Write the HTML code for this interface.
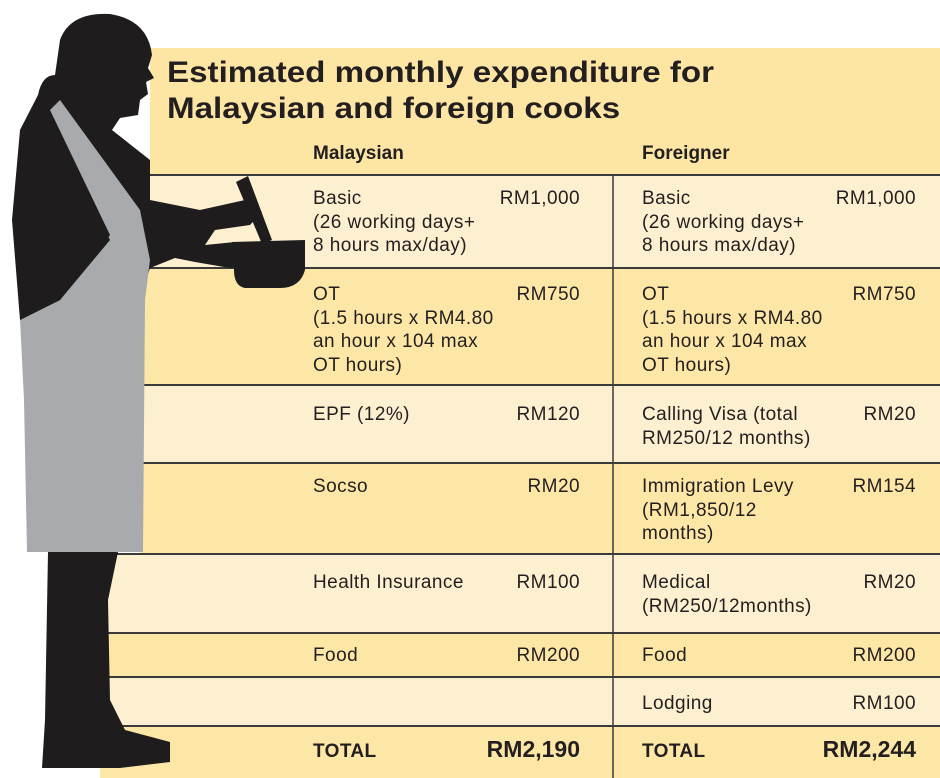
<!DOCTYPE html>
<html><head><meta charset="utf-8"><style>
body{margin:0;width:940px;height:778px;background:#fff;position:relative;overflow:hidden;font-family:"Liberation Sans",sans-serif;color:#231f20}
.abs{position:absolute}
.t{font-size:19px;line-height:23.5px;letter-spacing:0.45px}
.v{text-align:right}
.b{font-weight:bold}
</style></head><body>
<div class="abs" style="left:150px;top:48px;width:790px;height:127px;background:#fde6a4"></div>
<div class="abs" style="left:140px;top:175px;width:800px;height:93px;background:#fdf0d0"></div>
<div class="abs" style="left:140px;top:268px;width:800px;height:117px;background:#fde7a6"></div>
<div class="abs" style="left:140px;top:385px;width:800px;height:78px;background:#fdf0d0"></div>
<div class="abs" style="left:140px;top:463px;width:800px;height:91px;background:#fde7a6"></div>
<div class="abs" style="left:100px;top:554px;width:840px;height:79px;background:#fdf0d0"></div>
<div class="abs" style="left:100px;top:633px;width:840px;height:44px;background:#fde7a6"></div>
<div class="abs" style="left:100px;top:677px;width:840px;height:49px;background:#fdf0d0"></div>
<div class="abs" style="left:100px;top:726px;width:840px;height:52px;background:#fde7a6"></div>
<svg class="abs" style="left:0;top:0" width="940" height="778">
<g stroke="#3a3a3a" stroke-width="2">
<line x1="140" y1="175" x2="940" y2="175"/><line x1="140" y1="268" x2="940" y2="268"/>
<line x1="140" y1="385" x2="940" y2="385"/><line x1="140" y1="463" x2="940" y2="463"/>
<line x1="100" y1="554" x2="940" y2="554"/><line x1="100" y1="633" x2="940" y2="633"/>
<line x1="100" y1="677" x2="940" y2="677"/><line x1="100" y1="726" x2="940" y2="726"/>
</g>
<line x1="613" y1="175" x2="613" y2="778" stroke="#3a3a3a" stroke-width="1.5"/>
<g fill="#1e1c1c">
<path d="M60 40 Q70 12 110 14 Q148 20 152 55 L148 68 L154 78 L146 82 L148 94 L140 100 L138 115 L120 118 L112 130 L150 160 L150 200 L200 210 L245 200 L262 212 L250 225 L215 230 L205 245 L235 242 L262 244 L262 262 L230 268 L195 262 L175 258 L150 268 L140 300 L20 320 L12 220 L20 130 L38 95 Q42 75 55 75 Z"/>
<path d="M236 182 L248 176 L272 240 L262 244 Z"/>
<path d="M232 242 L305 240 L305 270 Q300 288 280 288 L245 288 Q234 286 234 270 Z"/>
<path d="M48 552 L118 552 L108 600 L110 700 L125 730 L170 742 L170 762 L120 768 L42 768 L45 720 Z"/>
</g>
<path d="M50 110 L60 100 L140 210 L150 260 L145 300 L143 552 L27 552 L24 400 L20 320 L60 300 L110 235 Z" fill="#a8aaad"/>
<path d="M20 320 L60 300 L110 240 L50 120 L38 140 L25 200 Z" fill="#1e1c1c"/>
</svg>
<div class="abs b" style="left:167px;top:55px;font-size:30px;line-height:36px;transform:scaleX(1.105);transform-origin:0 0;white-space:nowrap">Estimated monthly expenditure for<br>Malaysian and foreign cooks</div>
<div class="abs b" style="left:313px;top:143px;font-size:19px">Malaysian</div>
<div class="abs b" style="left:642px;top:143px;font-size:19px">Foreigner</div>

<div class="abs t" style="left:313px;top:187px">Basic<br>(26 working days+<br>8 hours max/day)</div>
<div class="abs t v" style="left:450px;width:130px;top:187px">RM1,000</div>
<div class="abs t" style="left:313px;top:283px">OT<br>(1.5 hours x RM4.80<br>an hour x 104 max<br>OT hours)</div>
<div class="abs t v" style="left:450px;width:130px;top:283px">RM750</div>
<div class="abs t" style="left:313px;top:403px">EPF (12%)</div>
<div class="abs t v" style="left:450px;width:130px;top:403px">RM120</div>
<div class="abs t" style="left:313px;top:475px">Socso</div>
<div class="abs t v" style="left:450px;width:130px;top:475px">RM20</div>
<div class="abs t" style="left:313px;top:571px">Health Insurance</div>
<div class="abs t v" style="left:450px;width:130px;top:571px">RM100</div>
<div class="abs t" style="left:313px;top:644px">Food</div>
<div class="abs t v" style="left:450px;width:130px;top:644px">RM200</div>
<div class="abs b" style="left:313px;top:741px;font-size:19px;letter-spacing:0.4px">TOTAL</div>
<div class="abs b v" style="left:430px;width:150px;top:736px;font-size:23px">RM2,190</div>

<div class="abs t" style="left:642px;top:187px">Basic<br>(26 working days+<br>8 hours max/day)</div>
<div class="abs t v" style="left:786px;width:130px;top:187px">RM1,000</div>
<div class="abs t" style="left:642px;top:283px">OT<br>(1.5 hours x RM4.80<br>an hour x 104 max<br>OT hours)</div>
<div class="abs t v" style="left:786px;width:130px;top:283px">RM750</div>
<div class="abs t" style="left:642px;top:403px">Calling Visa (total<br>RM250/12 months)</div>
<div class="abs t v" style="left:786px;width:130px;top:403px">RM20</div>
<div class="abs t" style="left:642px;top:475px">Immigration Levy<br>(RM1,850/12<br>months)</div>
<div class="abs t v" style="left:786px;width:130px;top:475px">RM154</div>
<div class="abs t" style="left:642px;top:571px">Medical<br>(RM250/12months)</div>
<div class="abs t v" style="left:786px;width:130px;top:571px">RM20</div>
<div class="abs t" style="left:642px;top:644px">Food</div>
<div class="abs t v" style="left:786px;width:130px;top:644px">RM200</div>
<div class="abs t" style="left:642px;top:692px">Lodging</div>
<div class="abs t v" style="left:786px;width:130px;top:692px">RM100</div>
<div class="abs b" style="left:642px;top:741px;font-size:19px;letter-spacing:0.4px">TOTAL</div>
<div class="abs b v" style="left:766px;width:150px;top:736px;font-size:23px">RM2,244</div>
</body></html>
